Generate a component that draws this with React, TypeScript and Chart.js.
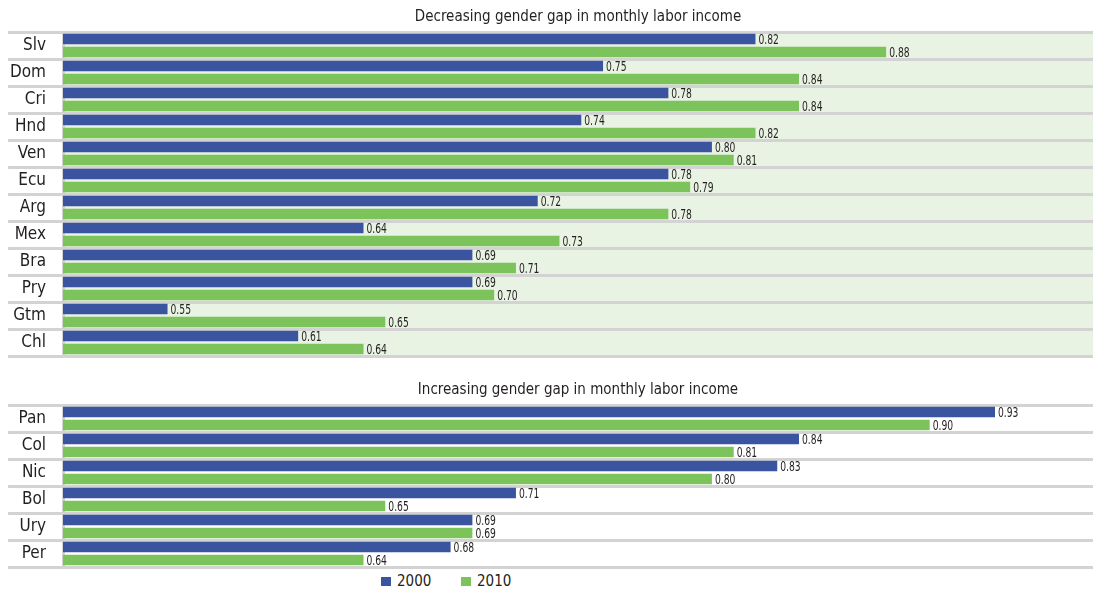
import React, { useEffect, useRef } from "react";
import { Chart, registerables } from "chart.js";

Chart.register(...registerables);

// ---- data ----
const topTitle = "Decreasing gender gap in monthly labor income";
const topCategories = ["Slv", "Dom", "Cri", "Hnd", "Ven", "Ecu", "Arg", "Mex", "Bra", "Pry", "Gtm", "Chl"];
const top2000 = [0.82, 0.75, 0.78, 0.74, 0.8, 0.78, 0.72, 0.64, 0.69, 0.69, 0.55, 0.61];
const top2010 = [0.88, 0.84, 0.84, 0.82, 0.81, 0.79, 0.78, 0.73, 0.71, 0.7, 0.65, 0.64];

const bottomTitle = "Increasing gender gap in monthly labor income";
const bottomCategories = ["Pan", "Col", "Nic", "Bol", "Ury", "Per"];
const bottom2000 = [0.93, 0.84, 0.83, 0.71, 0.69, 0.68];
const bottom2010 = [0.9, 0.81, 0.8, 0.65, 0.69, 0.64];

const seriesLabels = ["2000", "2010"];
const axisMin = 0.502;
const axisMax = 0.975;

// ---- styles ----
const BLUE = "#3b54a0";
const GREEN = "#7dc35b";
const GRID = "#d3d3d3";
const PLOT_BG = "#e9f3e3";
const TEXT = "#231f20";
const FONT = "'DejaVu Sans Condensed', 'DejaVu Sans', sans-serif";
const seriesColors = [BLUE, GREEN];

const valueLabelPlugin = {
  id: "valueLabels",
  afterDatasetsDraw(chart: any) {
    const ctx = chart.ctx;
    chart.data.datasets.forEach((ds: any, i: number) => {
      const meta = chart.getDatasetMeta(i);
      meta.data.forEach((el: any, j: number) => {
        const v = ds.data[j] as number;
        ctx.save();
        ctx.font = `14px ${FONT}`;
        ctx.fillStyle = TEXT;
        ctx.textAlign = "left";
        ctx.textBaseline = "middle";
        ctx.translate(el.x + 3, el.y + 1.5);
        ctx.scale(0.73, 1);
        ctx.fillText(v.toFixed(2), 0, 0);
        ctx.restore();
      });
    });
  },
};

const plotBgPlugin = {
  id: "plotBg",
  beforeDraw(chart: any, _args: any, opts: any) {
    if (!opts || !opts.color) return;
    const { ctx, chartArea } = chart;
    ctx.save();
    ctx.fillStyle = opts.color;
    ctx.fillRect(chartArea.left, chartArea.top, chartArea.right - chartArea.left, chartArea.bottom - chartArea.top);
    ctx.restore();
  },
};

type GapChartProps = {
  title: string;
  categories: string[];
  a: number[];
  b: number[];
  height: number;
  padTop: number;
  titlePadBottom: number;
  padBottom: number;
  bg: string | null;
};

function GapChart({ title, categories, a, b, height, padTop, titlePadBottom, padBottom, bg }: GapChartProps) {
  const ref = useRef<HTMLCanvasElement | null>(null);
  useEffect(() => {
    if (!ref.current) return;
    const chart = new Chart(ref.current, {
      type: "bar",
      data: {
        labels: categories,
        datasets: [
          { label: seriesLabels[0], data: a, backgroundColor: seriesColors[0], categoryPercentage: 0.96, barPercentage: 0.81 },
          { label: seriesLabels[1], data: b, backgroundColor: seriesColors[1], categoryPercentage: 0.96, barPercentage: 0.81 },
        ],
      },
      options: {
        indexAxis: "y",
        animation: false,
        responsive: false,
        maintainAspectRatio: false,
        layout: { padding: { top: padTop, bottom: padBottom, left: 0, right: 0 } },
        plugins: {
          legend: { display: false },
          tooltip: { enabled: false },
          title: {
            display: true,
            text: title,
            fullSize: false,
            color: TEXT,
            font: { family: FONT, size: 15, weight: "normal" },
            padding: { top: 0, bottom: titlePadBottom },
          },
          plotBg: { color: bg },
        } as any,
        scales: {
          x: { display: false, min: axisMin, max: axisMax },
          y: {
            offset: true,
            grid: { offset: true, color: GRID, lineWidth: 3, drawTicks: true, tickLength: 55 },
            border: { display: true, color: GRID, width: 3 },
            ticks: { color: TEXT, font: { family: FONT, size: 17 }, padding: -38 },
            afterFit: (scale: any) => {
              scale.width = 55;
            },
          },
        },
      } as any,
      plugins: [plotBgPlugin, valueLabelPlugin],
    });
    return () => chart.destroy();
  }, []);
  return <canvas ref={ref} width={1085} height={height} style={{ display: "block", width: 1085, height }} />;
}

export default function App() {
  return (
    <div style={{ position: "fixed", top: 0, left: 0, width: 1093, height: 593, overflow: "hidden", background: "#fff", fontFamily: FONT }}>
      <div style={{ position: "absolute", left: 8, top: 8 }}>
        <GapChart title={topTitle} categories={topCategories} a={top2000} b={top2010} height={352} padTop={0} titlePadBottom={6} padBottom={4} bg={PLOT_BG} />
      </div>
      <div style={{ position: "absolute", left: 8, top: 360 }}>
        <GapChart title={bottomTitle} categories={bottomCategories} a={bottom2000} b={bottom2010} height={211} padTop={21} titlePadBottom={6} padBottom={4} bg={null} />
      </div>
      <div style={{ position: "absolute", left: 381, top: 571, display: "flex", alignItems: "center", height: 20, color: TEXT, fontSize: 15 }}>
        {seriesLabels.map((lab, i) => (
          <div key={lab} style={{ display: "flex", alignItems: "center", width: 80 }}>
            <span style={{ display: "inline-block", width: 10, height: 9, background: seriesColors[i], marginRight: 6 }} />
            <span>{lab}</span>
          </div>
        ))}
      </div>
    </div>
  );
}
